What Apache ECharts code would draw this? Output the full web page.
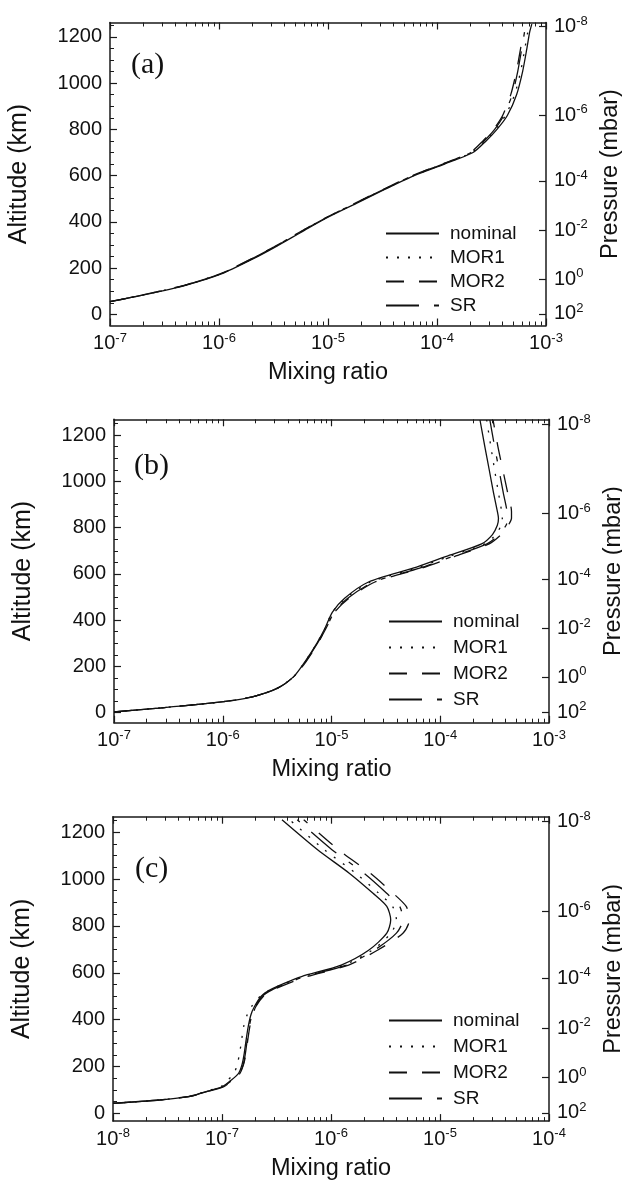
<!DOCTYPE html>
<html><head><meta charset="utf-8">
<script src="https://cdn.jsdelivr.net/npm/echarts@6/dist/echarts.min.js"></script>
<style>html,body{margin:0;padding:0;background:#fff}#c{width:622px;height:1180px}</style>
</head><body><div id="c"></div>
<script>
// ---------------- DATA ----------------
const seriesNames = ['nominal', 'MOR1', 'MOR2', 'SR'];
const panelLetters = ['(a)', '(b)', '(c)'];
const axisTitles = { x: 'Mixing ratio', yLeft: 'Altitude (km)', yRight: 'Pressure (mbar)' };

// Altitude tick labels (km)
const yMajor = [0, 200, 400, 600, 800, 1000, 1200];
const yMinor = [50, 100, 150, 250, 300, 350, 450, 500, 550, 650, 700, 750, 850, 900, 950, 1050, 1100, 1150, 1250];
// Pressure ticks: altitude (km) where each pressure level sits, and its exponent (mbar = 10^exp)
const pressureAlt = [2, 153, 364, 577, 861, 1245];
const pressureExp = [2, 0, -2, -4, -6, -8];
// Mixing-ratio decades
const xMajorAB = [1e-7, 1e-6, 1e-5, 1e-4, 1e-3];
const xMajorC = [1e-8, 1e-7, 1e-6, 1e-5, 1e-4];
const minorMult = [2, 3, 4, 5, 6, 7, 8, 9];

// Panel (a)
const altA = [55, 84, 127, 175, 242, 292, 365, 422, 480, 540, 600, 650, 700, 750, 800, 860, 950, 1050, 1150, 1220, 1255];
const nominalA = [1.00e-7, 2.04e-7, 5.01e-7, 1.05e-6, 2.09e-6, 3.30e-6, 6.17e-6, 1.02e-5, 1.82e-5, 3.31e-5, 6.17e-5, 1.17e-4, 2.14e-4, 2.82e-4, 3.55e-4, 4.42e-4, 5.37e-4, 6.10e-4, 6.68e-4, 7.08e-4, 7.41e-4];
const mor1A = [1.00e-7, 2.02e-7, 4.95e-7, 1.03e-6, 2.05e-6, 3.25e-6, 6.00e-6, 1.00e-5, 1.78e-5, 3.25e-5, 6.05e-5, 1.14e-4, 2.08e-4, 2.74e-4, 3.45e-4, 4.25e-4, 5.15e-4, 5.85e-4, 6.40e-4, 6.80e-4, 7.10e-4];
const mor2A = [1.00e-7, 2.00e-7, 4.90e-7, 1.02e-6, 2.02e-6, 3.20e-6, 5.95e-6, 9.90e-6, 1.76e-5, 3.20e-5, 5.95e-5, 1.12e-4, 2.02e-4, 2.64e-4, 3.30e-4, 4.00e-4, 4.75e-4, 5.35e-4, 5.85e-4, 6.20e-4, null];
const srA = [1.00e-7, 2.01e-7, 4.93e-7, 1.03e-6, 2.04e-6, 3.22e-6, 6.00e-6, 1.00e-5, 1.78e-5, 3.22e-5, 6.00e-5, 1.13e-4, 2.05e-4, 2.70e-4, 3.38e-4, 4.10e-4, 4.90e-4, 5.50e-4, 6.00e-4, 6.35e-4, null];

// Panel (b)
const altB = [4, 20, 48, 70, 105, 155, 220, 300, 365, 435, 495, 565, 625, 675, 730, 770, 810, 840, 870, 950, 1050, 1150, 1265];
const nominalB = [1.0e-7, 2.57e-7, 1.02e-6, 1.91e-6, 3.16e-6, 4.47e-6, 5.69e-6, 7.33e-6, 8.71e-6, 1.02e-5, 1.32e-5, 2.19e-5, 5.62e-5, 1.12e-4, 2.40e-4, 3.02e-4, 3.35e-4, 3.43e-4, 3.35e-4, 3.09e-4, 2.82e-4, 2.57e-4, 2.32e-4];
const mor1B = [1.0e-7, 2.57e-7, 1.02e-6, 1.91e-6, 3.16e-6, 4.47e-6, 5.69e-6, 7.33e-6, 8.71e-6, 1.02e-5, 1.35e-5, 2.29e-5, 6.03e-5, 1.20e-4, 2.57e-4, 3.24e-4, 3.63e-4, 3.72e-4, 3.67e-4, 3.43e-4, 3.16e-4, 2.92e-4, 2.67e-4];
const mor2B = [1.0e-7, 2.57e-7, 1.02e-6, 1.91e-6, 3.16e-6, 4.47e-6, 5.82e-6, 7.50e-6, 8.91e-6, 1.07e-5, 1.45e-5, 2.51e-5, 6.76e-5, 1.35e-4, 2.82e-4, 3.63e-4, 4.22e-4, 4.52e-4, 4.52e-4, 4.17e-4, 3.76e-4, 3.39e-4, 3.06e-4];
const srB = [1.0e-7, 2.57e-7, 1.02e-6, 1.91e-6, 3.16e-6, 4.47e-6, 5.75e-6, 7.41e-6, 8.91e-6, 1.06e-5, 1.41e-5, 2.43e-5, 6.46e-5, 1.29e-4, 2.69e-4, 3.47e-4, 4.03e-4, 4.17e-4, 4.12e-4, 3.80e-4, 3.47e-4, 3.16e-4, 2.86e-4];

// Panel (c)
const altC = [43, 57, 74, 95, 114, 140, 171, 210, 256, 310, 370, 420, 455, 500, 527, 555, 584, 633, 697, 769, 826, 883, 939, 1025, 1125, 1253];
const nominalC = [1.00e-8, 2.66e-8, 5.19e-8, 7.41e-8, 1.01e-7, 1.20e-7, 1.42e-7, 1.53e-7, 1.60e-7, 1.66e-7, 1.74e-7, 1.84e-7, 1.98e-7, 2.29e-7, 2.76e-7, 3.72e-7, 5.37e-7, 1.24e-6, 2.23e-6, 3.25e-6, 3.53e-6, 3.25e-6, 2.43e-6, 1.47e-6, 7.53e-7, 3.55e-7];
const mor1C = [1.00e-8, 2.66e-8, 5.13e-8, 7.24e-8, 9.77e-8, 1.12e-7, 1.29e-7, 1.38e-7, 1.45e-7, 1.51e-7, 1.58e-7, 1.70e-7, 1.86e-7, 2.24e-7, 2.75e-7, 3.80e-7, 5.62e-7, 1.32e-6, 2.40e-6, 3.55e-6, 3.98e-6, 3.67e-6, 2.75e-6, 1.68e-6, 8.71e-7, 4.17e-7];
const mor2C = [1.00e-8, 2.69e-8, 5.25e-8, 7.59e-8, 1.04e-7, 1.24e-7, 1.46e-7, 1.58e-7, 1.66e-7, 1.72e-7, 1.80e-7, 1.91e-7, 2.04e-7, 2.40e-7, 2.95e-7, 4.07e-7, 6.03e-7, 1.45e-6, 2.69e-6, 4.57e-6, 5.25e-6, 4.90e-6, 3.72e-6, 2.29e-6, 1.17e-6, 5.62e-7];
const srC = [1.00e-8, 2.69e-8, 5.25e-8, 7.50e-8, 1.02e-7, 1.23e-7, 1.45e-7, 1.57e-7, 1.64e-7, 1.70e-7, 1.78e-7, 1.88e-7, 2.02e-7, 2.34e-7, 2.88e-7, 3.94e-7, 5.75e-7, 1.38e-6, 2.51e-6, 3.98e-6, 4.57e-6, 4.27e-6, 3.24e-6, 2.00e-6, 1.02e-6, 4.90e-7];

// ---------------- STYLE / LAYOUT ----------------
const FONT = '"Liberation Sans", Arial, Helvetica, sans-serif';
const SERIF = '"Liberation Serif", "Times New Roman", serif';
const INK = '#111';
const AXLINE = { show: true, onZero: false, lineStyle: { color: '#1a1a1a', width: 1.5 } };
const NOLINE = { show: false, onZero: false };
const lineStyles = {
  nominal: { type: 'solid' },
  MOR1: { type: [2, 9] },
  MOR2: { type: [18, 15] },
  SR: { type: [33, 15, 5, 15] }
};
const panels = [
  { grid: { left: 110, top: 22.5, width: 436, height: 303 }, y: [-48, 1262], xMajor: xMajorAB,
    alt: altA, data: [nominalA, mor1A, mor2A, srA], legendTop: 224, legendLeft: 385, legendGap: 5, letter: [131, 65] },
  { grid: { left: 114, top: 419.3, width: 435, height: 303.4 }, y: [-43, 1268], xMajor: xMajorAB,
    alt: altB, data: [nominalB, mor1B, mor2B, srB], legendTop: 612, legendLeft: 388, legendGap: 7, letter: [134, 466] },
  { grid: { left: 113, top: 816.7, width: 436, height: 304.4 }, y: [-33, 1266], xMajor: xMajorC,
    alt: altC, data: [nominalC, mor1C, mor2C, srC], legendTop: 1011, legendLeft: 388, legendGap: 7, letter: [135, 869] }
];

const rich = {
  b: { fontSize: 20, fontFamily: FONT, color: INK, lineHeight: 24 },
  e: { fontSize: 13, fontFamily: FONT, color: INK, lineHeight: 14, verticalAlign: 'top' }
};
function powLabel(v) { return '{b|10}{e|' + Math.round(Math.log10(v)) + '}'; }
const nameStyle = { fontSize: 23.5, fontFamily: FONT, color: INK };

const option = { animation: false, backgroundColor: '#fff', grid: [], xAxis: [], yAxis: [], series: [], legend: [], graphic: [] };

panels.forEach((p, k) => {
  option.grid.push(Object.assign({ outerBoundsMode: 'none', containLabel: false }, p.grid));
  const xMin = p.xMajor[0], xMax = p.xMajor[p.xMajor.length - 1];
  const xMinor = [];
  p.xMajor.slice(0, -1).forEach(d => minorMult.forEach(m => xMinor.push(d * m)));
  const baseX = { type: 'log', logBase: 10, min: xMin, max: xMax, gridIndex: k, splitLine: { show: false }, minorTick: { show: false } };
  const majT = { show: true, inside: true, length: 7, customValues: p.xMajor, lineStyle: { color: '#1a1a1a', width: 1.2 } };
  const minT = { show: true, inside: true, length: 4, customValues: xMinor, lineStyle: { color: '#1a1a1a', width: 1 } };
  option.xAxis.push(Object.assign({}, baseX, {
    position: 'bottom', axisLine: AXLINE, axisTick: majT,
    axisLabel: { show: true, customValues: p.xMajor, margin: 6, formatter: powLabel, rich: rich },
    name: axisTitles.x, nameLocation: 'middle', nameGap: 35, nameTextStyle: nameStyle
  }));
  option.xAxis.push(Object.assign({}, baseX, { position: 'bottom', axisLine: NOLINE, axisTick: minT, axisLabel: { show: false } }));
  option.xAxis.push(Object.assign({}, baseX, { position: 'top', axisLine: AXLINE, axisTick: majT, axisLabel: { show: false } }));
  option.xAxis.push(Object.assign({}, baseX, { position: 'top', axisLine: NOLINE, axisTick: minT, axisLabel: { show: false } }));

  const baseY = { type: 'value', min: p.y[0], max: p.y[1], gridIndex: k, splitLine: { show: false } };
  option.yAxis.push(Object.assign({}, baseY, {
    position: 'left', axisLine: AXLINE,
    axisTick: { show: true, inside: true, length: 7, customValues: yMajor, lineStyle: { color: '#1a1a1a', width: 1.2 } },
    axisLabel: { show: true, customValues: yMajor, margin: 8, fontSize: 20, fontFamily: FONT, color: INK, formatter: v => String(v) },
    name: axisTitles.yLeft, nameLocation: 'middle', nameGap: 78,
    nameTextStyle: Object.assign({}, nameStyle, { fontSize: 25 })
  }));
  option.yAxis.push(Object.assign({}, baseY, {
    position: 'left', axisLine: NOLINE,
    axisTick: { show: true, inside: true, length: 4, customValues: yMinor, lineStyle: { color: '#1a1a1a', width: 1 } },
    axisLabel: { show: false }
  }));
  option.yAxis.push(Object.assign({}, baseY, {
    position: 'right', axisLine: AXLINE,
    axisTick: { show: true, inside: true, length: 7, customValues: pressureAlt, lineStyle: { color: '#1a1a1a', width: 1.2 } },
    axisLabel: { show: true, customValues: pressureAlt, margin: 8, rich: rich,
      formatter: v => { const i = pressureAlt.indexOf(v); return '{b|10}{e|' + pressureExp[i] + '}'; } },
    name: axisTitles.yRight, nameLocation: 'middle', nameGap: 46, nameRotate: 90, nameTextStyle: nameStyle
  }));

  seriesNames.forEach((name, s) => {
    const xs = p.data[s];
    const data = [];
    p.alt.forEach((a, i) => { if (xs[i] != null) data.push([xs[i], a]); });
    option.series.push({
      type: 'line', name: name, data: data, xAxisIndex: 4 * k, yAxisIndex: 3 * k,
      symbol: 'none', smooth: 0.25, silent: true, clip: true,
      lineStyle: Object.assign({ color: '#111', width: 1.3 }, lineStyles[name]),
      itemStyle: { color: '#111' }
    });
  });

  option.legend.push({
    orient: 'vertical', left: p.legendLeft, top: p.legendTop, padding: 0, itemWidth: 53, itemHeight: 14,
    itemGap: p.legendGap, selectedMode: false, data: seriesNames,
    itemStyle: { opacity: 0 },
    textStyle: { fontSize: 19, fontFamily: FONT, color: INK, padding: [0, 0, 0, 6] }
  });

  option.graphic.push({
    type: 'text', x: p.letter[0], y: p.letter[1],
    style: { text: panelLetters[k], font: '30px ' + SERIF, fill: '#111', verticalAlign: 'middle', align: 'left' }
  });
});

const chart = echarts.init(document.getElementById('c'), null, { renderer: 'canvas' });
chart.setOption(option);
</script>
</body></html>
